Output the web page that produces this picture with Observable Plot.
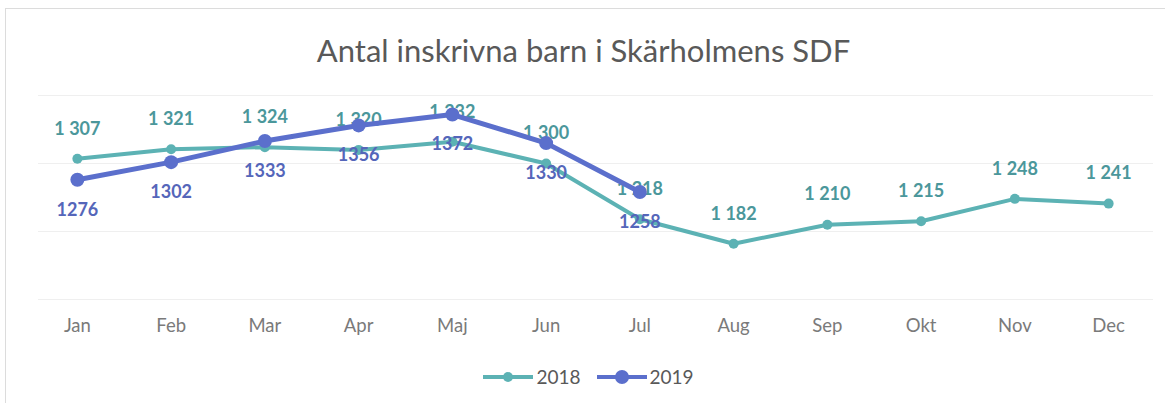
<!DOCTYPE html>
<html>
<head>
<meta charset="utf-8">
<script src="https://cdn.jsdelivr.net/npm/d3@7"></script>
<script src="https://cdn.jsdelivr.net/npm/@observablehq/plot@0.6"></script>
<style>
  html, body { margin: 0; padding: 0; background: #fff; }
  #wrap { position: relative; width: 1167px; height: 403px; overflow: hidden; font-family: Lato, "Open Sans", sans-serif; }
  #frame { position: absolute; left: 5px; top: 8px; width: 1160px; height: 400px; border-left: 1px solid #dcdcdc; border-top: 1px solid #dcdcdc; box-sizing: border-box; }
  #title { position: absolute; left: 0; top: 0; width: 1167px; height: 80px; text-align: center; line-height: 100px; font-size: 31px; color: #595959; }
  #chart { position: absolute; left: 0; top: 80px; }
  #legend { position: absolute; left: 0; top: 350px; width: 1167px; height: 53px; display: flex; justify-content: center; align-items: center; gap: 16px; font-size: 19px; color: #595959; padding-left: 10px; box-sizing: border-box; }
  .item { display: flex; align-items: center; gap: 3px; }
</style>
</head>
<body>
<div id="wrap">
  <div id="frame"></div>
  <div id="title">Antal inskrivna barn i Skärholmens SDF</div>
  <div id="chart"></div>
  <div id="legend"></div>
</div>
<script>
const title = "Antal inskrivna barn i Skärholmens SDF";
const months = ["Jan","Feb","Mar","Apr","Maj","Jun","Jul","Aug","Sep","Okt","Nov","Dec"];
const series = ["2018", "2019"];
const values2018 = [1307, 1321, 1324, 1320, 1332, 1300, 1218, 1182, 1210, 1215, 1248, 1241];
const values2019 = [1276, 1302, 1333, 1356, 1372, 1330, 1258];
const gridValues = [1100, 1200, 1300, 1400];

const colors = { "2018": "#5cb2b4", "2019": "#5b6fcc" };
const labelColors = { "2018": "#4b979b", "2019": "#5566ba" };

const d18 = values2018.map((v, i) => ({ month: months[i], value: v, label: String(v).replace(/\B(?=(\d{3})+$)/g, " ") }));
const d19 = values2019.map((v, i) => ({ month: months[i], value: v, label: String(v) }));

const chart = Plot.plot({
  width: 1167,
  height: 270,
  marginLeft: 30,
  marginRight: 12,
  marginTop: 15,
  marginBottom: 51,
  style: { fontFamily: "Lato, 'Open Sans', sans-serif", background: "transparent" },
  x: { type: "point", domain: months, padding: 0.5, round: false, label: null },
  y: { domain: [1100, 1400], axis: null },
  marks: [
    Plot.ruleY(gridValues, { stroke: "#efefef", strokeWidth: 1, insetLeft: 8, insetRight: 2 }),
    Plot.lineY(d18, { x: "month", y: "value", stroke: colors["2018"], strokeWidth: 4 }),
    Plot.dot(d18, { x: "month", y: "value", fill: colors["2018"], r: 5 }),
    Plot.text(d18, { x: "month", y: "value", text: "label", dy: -30, fill: labelColors["2018"], fontSize: 18, fontWeight: "bold" }),
    Plot.lineY(d19, { x: "month", y: "value", stroke: colors["2019"], strokeWidth: 5 }),
    Plot.dot(d19, { x: "month", y: "value", fill: colors["2019"], r: 7 }),
    Plot.text(d19, { x: "month", y: "value", text: "label", dy: 30, fill: labelColors["2019"], fontSize: 18, fontWeight: "bold" }),
    Plot.axisX({ tickSize: 0, tickPadding: 19, fontSize: 18.5, fill: "#7a7a7a", label: null })
  ]
});
document.getElementById("chart").appendChild(chart);

const legend = document.getElementById("legend");
series.forEach(s => {
  const item = document.createElement("div");
  item.className = "item";
  item.innerHTML = `<svg width="50" height="16"><line x1="0" y1="8" x2="50" y2="8" stroke="${colors[s]}" stroke-width="4"/><circle cx="25" cy="8" r="${s === "2019" ? 7 : 5}" fill="${colors[s]}"/></svg><span>${s}</span>`;
  legend.appendChild(item);
});
</script>
</body>
</html>
